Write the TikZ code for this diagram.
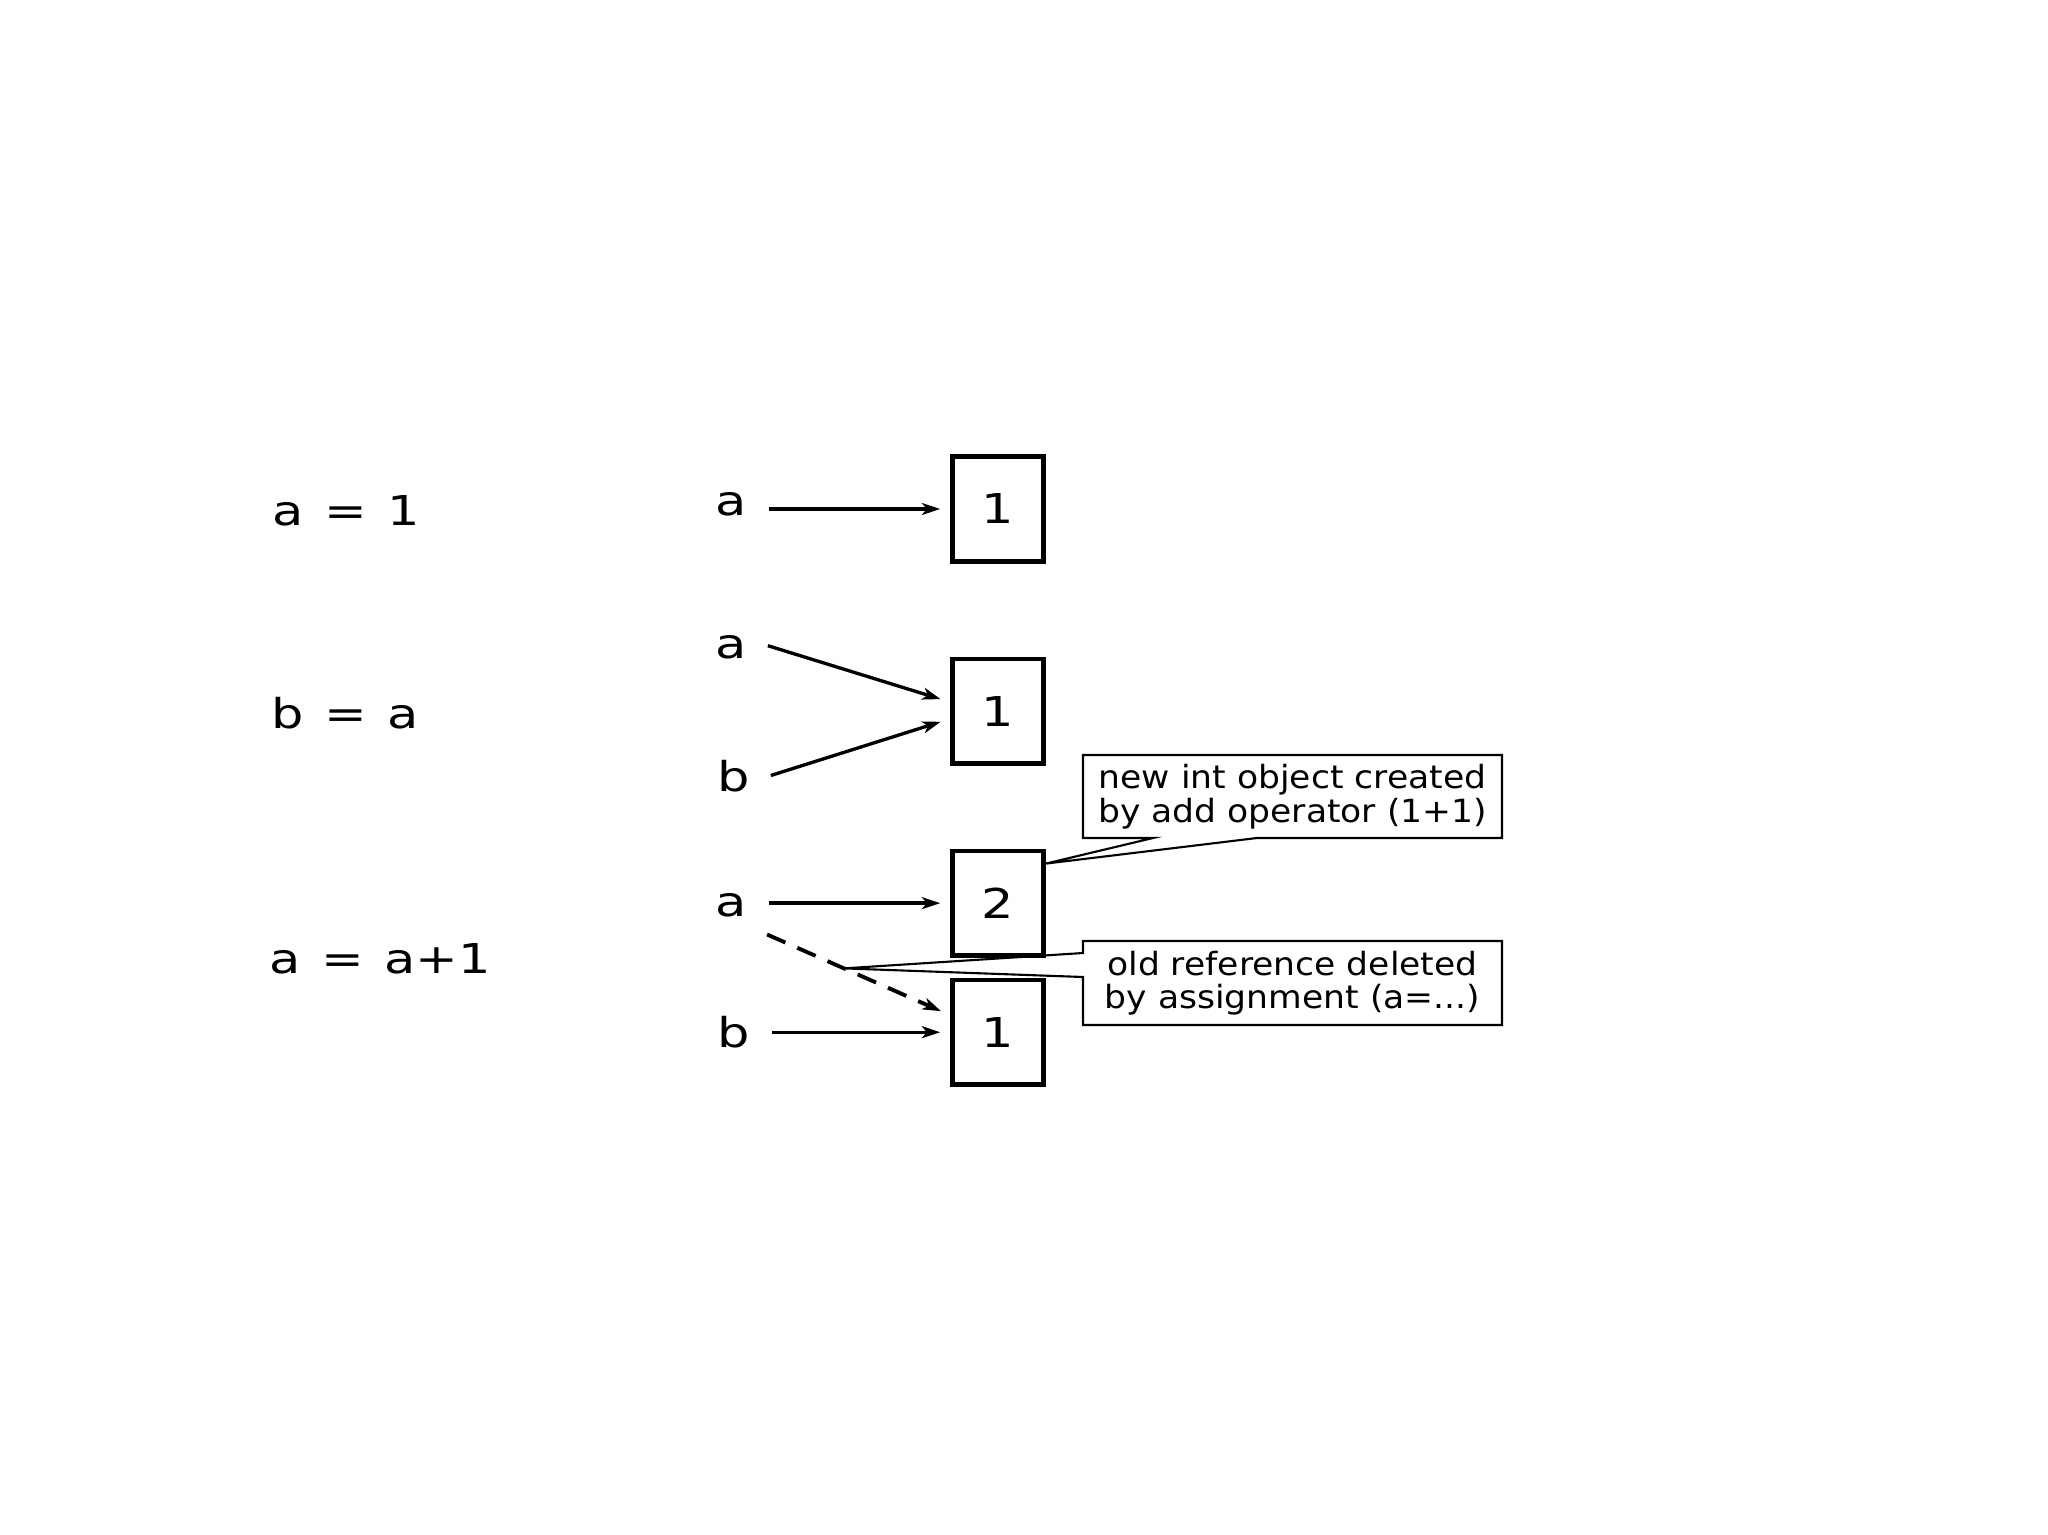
\documentclass[tikz,border=0pt]{standalone}
\usepackage{fontspec}
\setmainfont{DejaVu Sans}
\newfontfamily\codefont[FakeStretch=1.24,WordSpace=1.25]{DejaVu Sans}
\newfontfamily\notefont[FakeStretch=1.08]{DejaVu Sans}
\usetikzlibrary{arrows.meta,positioning}

\begin{document}
\begin{tikzpicture}[
    >={Stealth[length=5.2pt,width=3.4pt,inset=1.4pt]},
    stmt/.style={anchor=base west,inner sep=0pt,font=\codefont\fontsize{11.7pt}{14pt}\selectfont},
    var/.style={inner sep=0pt,font=\codefont\fontsize{11.7pt}{14pt}\selectfont},
    obj/.style={draw,line width=1.3pt,inner sep=0pt,minimum width=9.1mm,minimum height=10.45mm,font=\codefont\fontsize{11.7pt}{14pt}\selectfont},
    note/.style={inner sep=0pt,outer sep=0pt,minimum width=41.9mm,minimum height=8.3mm,align=center,font=\notefont\fontsize{9.1pt}{9.5pt}\selectfont},
    noteline/.style={line width=0.6pt,line join=miter},
    ref/.style={->,line width=0.95pt,shorten >=1mm,shorten <=2.1mm},
    oldref/.style={ref,dash pattern=on 5.7pt off 3.7pt,line width=1.1pt}
]
\path[use as bounding box,fill=white] (0,0) rectangle (20.48,-15.35);

% Statements
\node[stmt] (stmt1) at (2.72,-5.25) {a = 1};
\node[stmt] (stmt2) at (2.71,-7.28) {b = a};
\node[stmt] (stmt3) at (2.69,-9.73) {a = a+1};

% Objects
\node[obj] (obj1) at (9.98,-5.09) {1};
\node[obj,below=9.3mm of obj1] (obj2) {1};
\node[obj,below=8.3mm of obj2] (sum) {2};
\node[obj,below=2mm of sum] (orig) {1};

% Names
\node[var] (a1) at (7.315,-5.045) {a};
\node[var] (a2) at (7.315,-6.47) {a};
\node[var] (b2) at (7.34,-7.76) {b};
\node[var] (a3) at (7.315,-9.05) {a};
\node[var] (b3) at (7.34,-10.32) {b};

% References
\draw[ref] (a1.east |- obj1) -- (obj1);
\draw[ref] ([yshift=0.75mm]a2.east) -- ([yshift=0.9mm]obj2.west);
\draw[ref] ([yshift=-0.58mm]b2.east) -- ([yshift=-0.77mm]obj2.west);
\draw[ref] (a3.east |- sum) -- (sum);
\draw[oldref] ([yshift=-2.1mm]a3.east) -- coordinate[pos=0.475] (cut) ([yshift=1.7mm]orig.west);
\draw[ref] (b3.east |- orig) -- (orig);

% Callouts
\node[note] (newnote) at (12.925,-7.965) {new int object created\\by add operator (1+1)};
\draw[noteline] (newnote.south west) -- ([xshift=7mm]newnote.south west)
    -- ([yshift=-1.5mm]sum.north east) -- ([xshift=17.4mm]newnote.south west)
    -- (newnote.south east) -- (newnote.north east) -- (newnote.north west) -- cycle;

\node[note,minimum height=8.4mm] (oldnote) at (12.925,-9.83) {old reference deleted\\by assignment (a=...)};
\draw[noteline] (oldnote.north west) -- ([yshift=-1.2mm]oldnote.north west)
    -- (cut) -- ([yshift=-3.6mm]oldnote.north west)
    -- (oldnote.south west) -- (oldnote.south east) -- (oldnote.north east) -- cycle;

\end{tikzpicture}
\end{document}
